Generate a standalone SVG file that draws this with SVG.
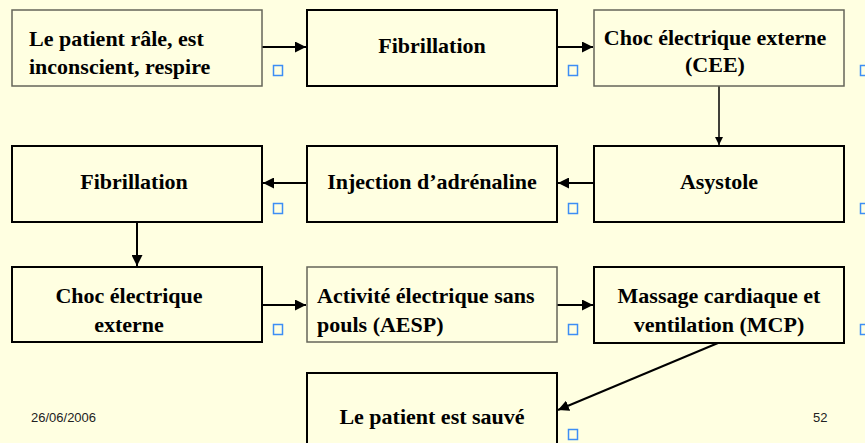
<svg xmlns="http://www.w3.org/2000/svg" width="865" height="443" viewBox="0 0 865 443">
<defs>
<style>
.box{fill:#FFFFE1;stroke:#000;stroke-width:2}
.grey{stroke:#66665a;stroke-width:1.5}
.t{font-family:"Liberation Serif","Times New Roman",serif;font-weight:bold;font-size:22px;fill:#000}
.c{text-anchor:middle}
.conn{stroke:#000;stroke-width:2;fill:none;marker-end:url(#ah)}
.sq{fill:none;stroke:#3d8ef5;stroke-width:1.5}
.foot{font-family:"Liberation Sans",Arial,sans-serif;font-size:13px;fill:#222}
</style>
<marker id="ah" viewBox="0 0 10 10" refX="10" refY="5" markerWidth="5.5" markerHeight="5.5" markerUnits="strokeWidth" orient="auto">
<path d="M0,0 L10,5 L0,10 z" fill="#000"/>
</marker>
</defs>
<rect x="0" y="0" width="865" height="443" fill="#FFFFE1"/>

<g id="connectors">
<line class="conn" x1="262" y1="47" x2="306" y2="47"/>
<line class="conn" x1="557" y1="47" x2="593" y2="47"/>
<line class="conn" x1="719" y1="86" x2="719" y2="145" style="stroke-width:1.5"/>
<line class="conn" x1="594" y1="183" x2="558" y2="183"/>
<line class="conn" x1="307" y1="183" x2="263" y2="183"/>
<line class="conn" x1="137" y1="222" x2="137" y2="266"/>
<line class="conn" x1="262" y1="305" x2="306" y2="305"/>
<line class="conn" x1="557" y1="305" x2="593" y2="305"/>
<line class="conn" x1="718" y1="343" x2="558" y2="410"/>
</g>

<g id="n1">
<rect class="box grey" x="12" y="10" width="250" height="76"/>
<text class="t" x="29" y="46">Le patient râle, est</text>
<text class="t" x="29" y="74">inconscient, respire</text>
</g>
<g id="n2">
<rect class="box" x="307" y="10" width="250" height="76"/>
<text class="t c" x="432" y="53">Fibrillation</text>
</g>
<g id="n3">
<rect class="box grey" x="594" y="10" width="250" height="76"/>
<text class="t c" x="715" y="45">Choc électrique externe</text>
<text class="t c" x="715" y="72">(CEE)</text>
</g>
<g id="n4">
<rect class="box" x="594" y="146" width="250" height="76"/>
<text class="t c" x="719" y="189">Asystole</text>
</g>
<g id="n5">
<rect class="box" x="307" y="146" width="250" height="76"/>
<text class="t c" x="432" y="189">Injection d’adrénaline</text>
</g>
<g id="n6">
<rect class="box" x="12" y="146" width="250" height="76"/>
<text class="t c" x="134" y="189">Fibrillation</text>
</g>
<g id="n7">
<rect class="box" x="12" y="267" width="250" height="75"/>
<text class="t c" x="129" y="303">Choc électrique</text>
<text class="t c" x="129" y="332">externe</text>
</g>
<g id="n8">
<rect class="box grey" x="307" y="267" width="250" height="75"/>
<text class="t" x="317" y="303">Activité électrique sans</text>
<text class="t" x="317" y="332">pouls (AESP)</text>
</g>
<g id="n9">
<rect class="box" x="594" y="267" width="250" height="76"/>
<text class="t c" x="719" y="303">Massage cardiaque et</text>
<text class="t c" x="719" y="332">ventilation (MCP)</text>
</g>
<g id="n10">
<rect class="box" x="307" y="373" width="250" height="80"/>
<text class="t c" x="432" y="424">Le patient est sauvé</text>
</g>

<g id="markers">
<rect class="sq" x="273.5" y="65.5" width="9" height="10"/>
<rect class="sq" x="568.5" y="65.5" width="9" height="10"/>
<rect class="sq" x="860.5" y="65.5" width="9" height="10"/>
<rect class="sq" x="273.5" y="203.5" width="9" height="10"/>
<rect class="sq" x="568.5" y="203.5" width="9" height="10"/>
<rect class="sq" x="860.5" y="203.5" width="9" height="10"/>
<rect class="sq" x="273.5" y="324.5" width="9" height="10"/>
<rect class="sq" x="568.5" y="324.5" width="9" height="10"/>
<rect class="sq" x="860.5" y="324.5" width="9" height="10"/>
<rect class="sq" x="568.5" y="429.5" width="9" height="10"/>
</g>

<text class="foot" x="31" y="422">26/06/2006</text>
<text class="foot" x="813" y="422">52</text>
</svg>
